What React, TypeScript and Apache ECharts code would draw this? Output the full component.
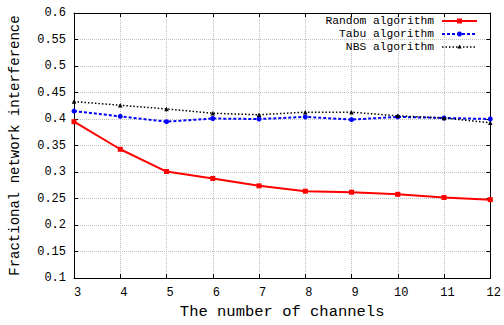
import React, { useEffect, useRef } from "react";
import * as echarts from "echarts";

const channels = [3, 4, 5, 6, 7, 8, 9, 10, 11, 12];
const randomAlg = [0.395, 0.343, 0.301, 0.288, 0.274, 0.264, 0.262, 0.258, 0.252, 0.248];
const tabuAlg = [0.415, 0.405, 0.395, 0.401, 0.4, 0.404, 0.399, 0.404, 0.402, 0.4];
const nbsAlg = [0.433, 0.426, 0.419, 0.411, 0.408, 0.413, 0.413, 0.406, 0.402, 0.393];
const seriesNames = ["Random algorithm", "Tabu algorithm", "NBS algorithm"];

const FONT = "Liberation Mono";

export default function App() {
  const ref = useRef<HTMLDivElement>(null);
  useEffect(() => {
    if (!ref.current) return;
    const chart = echarts.init(ref.current, null, { renderer: "svg" });
    const pair = (ys: number[]) => channels.map((c, i) => [c, ys[i]]);
    const legendX = 434;
    const legendRows = [21, 34, 47];
    const lineX0 = 442;
    const lineX1 = 477;
    const midX = (lineX0 + lineX1) / 2;
    const legendStyles = [
      { color: "#ff0000", dash: null as any, width: 2 },
      { color: "#0000ff", dash: [3, 2], width: 2 },
      { color: "#000000", dash: [1.5, 2], width: 1.5 },
    ];
    const graphic: any[] = [];
    seriesNames.forEach((n, i) => {
      graphic.push({
        type: "text",
        x: legendX,
        y: legendRows[i],
        style: {
          text: n,
          fontFamily: FONT,
          fontSize: 11.3,
          lineHeight: 12,
          fill: "#000",
          align: "right",
          verticalAlign: "middle",
        },
        z: 100,
      });
      graphic.push({
        type: "line",
        shape: { x1: lineX0, y1: legendRows[i], x2: lineX1, y2: legendRows[i] },
        style: {
          stroke: legendStyles[i].color,
          lineWidth: legendStyles[i].width,
          lineDash: legendStyles[i].dash,
        },
        z: 100,
      });
    });
    graphic.push({
      type: "rect",
      shape: { x: midX - 2.5, y: legendRows[0] - 2.5, width: 5, height: 5 },
      style: { fill: "#ff0000" },
      z: 101,
    });
    graphic.push({
      type: "circle",
      shape: { cx: midX, cy: legendRows[1], r: 2.5 },
      style: { fill: "#0000ff" },
      z: 101,
    });
    graphic.push({
      type: "polygon",
      shape: {
        points: [
          [midX, legendRows[2] - 2.5],
          [midX - 2.2, legendRows[2] + 1.5],
          [midX + 2.2, legendRows[2] + 1.5],
        ],
      },
      style: { fill: "#000" },
      z: 101,
    });

    const fmt = (v: number) => String(+v.toFixed(2));
    chart.setOption({
      animation: false,
      backgroundColor: "#fff",
      textStyle: { fontFamily: FONT },
      grid: { left: 72, right: 12, top: 13, bottom: 37, containLabel: false },
      graphic,
      xAxis: [
        {
          type: "value",
          min: 3,
          max: 12,
          interval: 1,
          name: "The number of channels",
          nameLocation: "middle",
          nameGap: 21,
          nameTextStyle: { fontFamily: FONT, fontSize: 15.5, color: "#000" },
          axisLine: { show: true, onZero: false, lineStyle: { color: "#000", width: 1 } },
          axisTick: { show: true, inside: true, length: 4, lineStyle: { color: "#000" } },
          axisLabel: {
            fontFamily: FONT,
            fontSize: 12,
            color: "#000",
            margin: 9,
            padding: [0, 0, 0, 7],
          },
          splitLine: { show: true, lineStyle: { color: "#c0c0c0", type: "dotted", width: 1 } },
        },
        {
          type: "value",
          position: "top",
          min: 3,
          max: 12,
          interval: 1,
          axisLine: { show: true, onZero: false, lineStyle: { color: "#000", width: 1 } },
          axisTick: { show: true, inside: true, length: 4, lineStyle: { color: "#000" } },
          axisLabel: { show: false },
          splitLine: { show: false },
        },
      ],
      yAxis: [
        {
          type: "value",
          min: 0.1,
          max: 0.6,
          interval: 0.05,
          name: "Fractional network interference",
          nameLocation: "middle",
          nameGap: 52,
          nameTextStyle: { fontFamily: FONT, fontSize: 14, color: "#000" },
          axisLine: { show: true, onZero: false, lineStyle: { color: "#000", width: 1 } },
          axisTick: { show: true, inside: true, length: 4, lineStyle: { color: "#000" } },
          axisLabel: { fontFamily: FONT, fontSize: 12, color: "#000", margin: 8, formatter: fmt },
          splitLine: { show: true, lineStyle: { color: "#c0c0c0", type: "dotted", width: 1 } },
        },
        {
          type: "value",
          position: "right",
          min: 0.1,
          max: 0.6,
          interval: 0.05,
          axisLine: { show: true, onZero: false, lineStyle: { color: "#000", width: 1 } },
          axisTick: { show: true, inside: true, length: 4, lineStyle: { color: "#000" } },
          axisLabel: { show: false },
          splitLine: { show: false },
        },
      ],
      series: [
        {
          name: seriesNames[0],
          type: "line",
          data: pair(randomAlg),
          symbol: "rect",
          symbolSize: 5,
          showAllSymbol: true,
          lineStyle: { color: "#ff0000", width: 2 },
          itemStyle: { color: "#ff0000" },
          z: 3,
        },
        {
          name: seriesNames[1],
          type: "line",
          data: pair(tabuAlg),
          symbol: "circle",
          symbolSize: 5,
          lineStyle: { color: "#0000ff", width: 2, type: [3, 2] },
          itemStyle: { color: "#0000ff" },
          z: 4,
        },
        {
          name: seriesNames[2],
          type: "line",
          data: pair(nbsAlg),
          symbol: "triangle",
          symbolSize: 4.5,
          lineStyle: { color: "#000", width: 1.5, type: [1.5, 2] },
          itemStyle: { color: "#000" },
          z: 5,
        },
      ],
    });
    return () => chart.dispose();
  }, []);
  return <div ref={ref} style={{ width: 504, height: 325, position: "absolute", left: 0, top: 0 }} />;
}
